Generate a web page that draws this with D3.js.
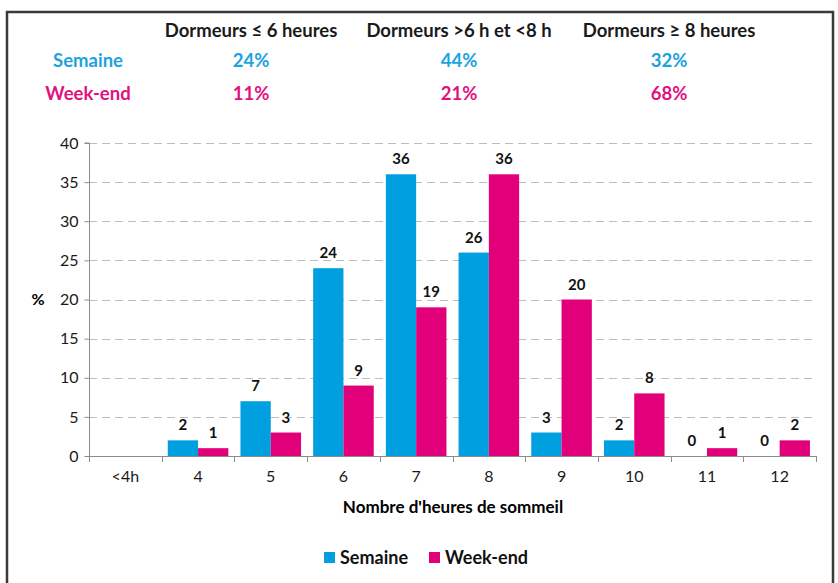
<!DOCTYPE html>
<html>
<head>
<meta charset="utf-8">
<script src="https://cdn.jsdelivr.net/npm/d3@7"></script>
<style>
  body { margin: 0; background: #fff; }
  svg { font-family: Lato, "Open Sans", sans-serif; }
</style>
</head>
<body>
<svg id="chart" width="838" height="583"></svg>
<script>
// data
var categories = ["<4h", "4", "5", "6", "7", "8", "9", "10", "11", "12"];
var semaine = [null, 2, 7, 24, 36, 26, 3, 2, 0, 0];
var weekend = [null, 1, 3, 9, 19, 36, 20, 8, 1, 2];
var yTicks = [0, 5, 10, 15, 20, 25, 30, 35, 40];
var groupHeaders = ["Dormeurs \u2264 6 heures", "Dormeurs >6 h et <8 h", "Dormeurs \u2265 8 heures"];
var semaineShares = ["24%", "44%", "32%"];
var weekendShares = ["11%", "21%", "68%"];

(function() {
  var blue = "#009fe0", pink = "#e2007a";
  var svg = d3.select("#chart");

  // frame
  svg.append("path")
    .attr("d", "M7,583V12H833V583")
    .attr("fill", "none").attr("stroke", "#3a3a3a").attr("stroke-width", 2.5);

  // summary table
  var colX = [251, 459, 669];
  var head = svg.append("g").attr("font-weight", "bold").attr("text-anchor", "middle");
  head.selectAll(".h").data(groupHeaders).enter().append("text")
    .attr("x", function(d, i) { return colX[i]; }).attr("y", 37)
    .attr("font-size", 18.5).attr("fill", "#1a1a1a").text(function(d) { return d; });
  head.append("text").attr("x", 88).attr("y", 67).attr("font-size", 18.5).attr("fill", "#1ba3e0").text("Semaine");
  head.append("text").attr("x", 88).attr("y", 100).attr("font-size", 18.5).attr("fill", "#e2127c").text("Week-end");
  head.selectAll(".s").data(semaineShares).enter().append("text")
    .attr("x", function(d, i) { return colX[i]; }).attr("y", 67)
    .attr("font-size", 18.5).attr("fill", "#1ba3e0").text(function(d) { return d; });
  head.selectAll(".w").data(weekendShares).enter().append("text")
    .attr("x", function(d, i) { return colX[i]; }).attr("y", 100)
    .attr("font-size", 18.5).attr("fill", "#e2127c").text(function(d) { return d; });

  // scales
  var pl = 89, pr = 816, pt = 143, pb = 456;
  var x = d3.scaleBand().domain(categories).range([pl, pr]).paddingInner(0).paddingOuter(0);
  var sub = d3.scaleBand().domain(["s", "w"]).range([0, x.bandwidth()]).paddingOuter(0.2);
  var y = d3.scaleLinear().domain([0, 40]).range([pb, pt]);

  // grid
  svg.append("g").selectAll("line").data(yTicks.slice(1)).enter().append("line")
    .attr("x1", pl).attr("x2", pr)
    .attr("y1", function(d) { return Math.round(y(d)) + 0.5; })
    .attr("y2", function(d) { return Math.round(y(d)) + 0.5; })
    .attr("stroke", "#bdbdbd").attr("stroke-dasharray", "8,5");

  // y axis
  var ya = svg.append("g").attr("transform", "translate(" + (pl + 0.5) + ",0)")
    .call(d3.axisLeft(y).tickValues(yTicks).tickSize(5).tickPadding(6));
  ya.select(".domain").attr("stroke", "#8c8c8c").attr("d", "M-5," + y(40) + "H0V" + y(0));
  ya.selectAll(".tick line").attr("stroke", "#8c8c8c");
  ya.selectAll("text").attr("font-size", 16).attr("fill", "#1a1a1a").attr("font-family", "Lato, sans-serif");

  // x axis
  var xa = svg.append("g").attr("transform", "translate(0," + (pb + 0.5) + ")")
    .call(d3.axisBottom(x).tickSize(0).tickPadding(14));
  xa.select(".domain").attr("stroke", "#8c8c8c").attr("d", "M" + pl + ",0H" + pr);
  xa.selectAll("text").attr("font-size", 16).attr("fill", "#1a1a1a").attr("font-family", "Lato, sans-serif");
  svg.append("g").selectAll("line").data(categories.concat(["end"])).enter().append("line")
    .attr("x1", function(d, i) { return Math.round(pl + i * x.bandwidth()) + 0.5; })
    .attr("x2", function(d, i) { return Math.round(pl + i * x.bandwidth()) + 0.5; })
    .attr("y1", pb).attr("y2", pb + 6).attr("stroke", "#8c8c8c");

  // bars
  var series = [{ key: "s", vals: semaine, color: blue }, { key: "w", vals: weekend, color: pink }];
  series.forEach(function(s) {
    var g = svg.append("g");
    categories.forEach(function(c, i) {
      var v = s.vals[i];
      if (v === null) return;
      var bx = x(c) + sub(s.key);
      g.append("rect").attr("x", bx).attr("width", sub.bandwidth())
        .attr("y", y(v)).attr("height", y(0) - y(v)).attr("fill", s.color);
      g.append("text").attr("x", bx + sub.bandwidth() / 2).attr("y", y(v) - 10)
        .attr("text-anchor", "middle").attr("font-size", 15).attr("font-weight", "bold")
        .attr("fill", "#111").text(v);
    });
  });

  // axis titles
  svg.append("text").attr("x", 38).attr("y", 305).attr("text-anchor", "middle")
    .attr("font-size", 16).attr("font-weight", "bold").text("%");
  svg.append("text").attr("x", 453).attr("y", 513).attr("text-anchor", "middle")
    .attr("font-size", 17).attr("font-weight", "bold").text("Nombre d'heures de sommeil");

  // legend
  var legend = [{ label: "Semaine", color: blue, x: 324 }, { label: "Week-end", color: pink, x: 429 }];
  var lg = svg.append("g").selectAll("g").data(legend).enter().append("g")
    .attr("transform", function(d) { return "translate(" + d.x + ",552)"; });
  lg.append("rect").attr("width", 11).attr("height", 11).attr("fill", function(d) { return d.color; });
  lg.append("text").attr("x", 16).attr("y", 12).attr("font-size", 18).attr("font-weight", "bold")
    .attr("fill", "#111").text(function(d) { return d.label; });
})();
</script>
</body>
</html>
